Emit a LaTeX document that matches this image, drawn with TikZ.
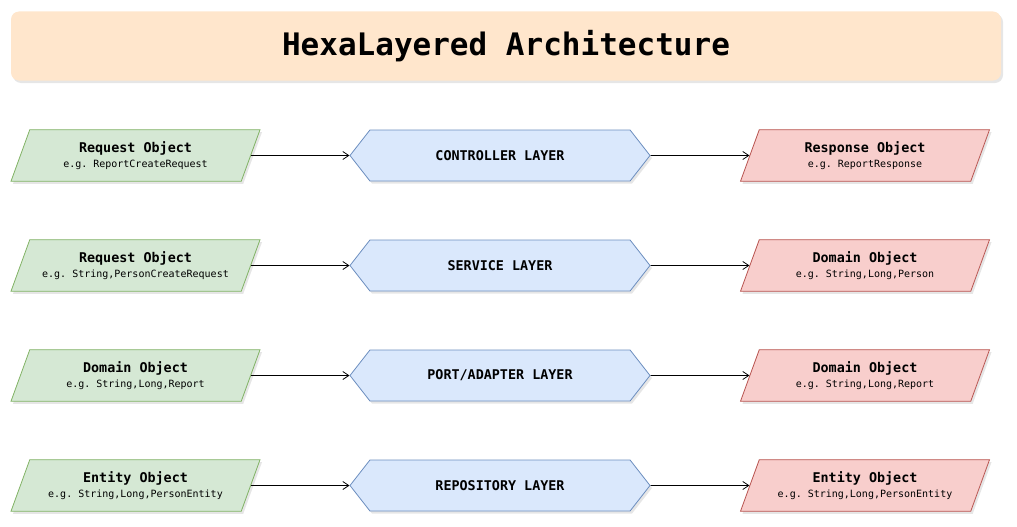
\documentclass[tikz,border=0pt]{standalone}
\usepackage{fontspec}
\setmonofont{DejaVu Sans Mono}
\usetikzlibrary{shapes.geometric,shapes.symbols,arrows.meta,shadows}
\definecolor{titlefill}{HTML}{FFE6CC}
\definecolor{infill}{HTML}{D5E8D4}
\definecolor{indraw}{HTML}{82B366}
\definecolor{layerfill}{HTML}{DAE8FC}
\definecolor{layerdraw}{HTML}{6C8EBF}
\definecolor{outfill}{HTML}{F8CECC}
\definecolor{outdraw}{HTML}{B85450}
\newcommand{\objtext}[2]{{\fontsize{13.4}{16}\selectfont\bfseries #1}\\[3.5pt]{\fontsize{10}{12}\selectfont e.g. #2}}
\begin{document}
\begin{tikzpicture}[x=1pt,y=-1pt,
  softshadow/.style={drop shadow={shadow xshift=2pt,shadow yshift=-2.5pt,opacity=0.2}},
  obj/.style={trapezium,trapezium left angle=70,trapezium right angle=110,
    trapezium stretches body,minimum width=249pt,minimum height=51pt,
    inner xsep=0pt,inner ysep=11.5pt,line width=0.8pt,align=center,font=\ttfamily,softshadow},
  inobj/.style={obj,draw=indraw,fill=infill},
  outobj/.style={obj,draw=outdraw,fill=outfill},
  layer/.style={signal,signal to=west and east,signal pointer angle=104,
    minimum width=300pt,minimum height=51pt,inner sep=0pt,line width=0.8pt,
    draw=layerdraw,fill=layerfill,softshadow,
    font=\ttfamily\bfseries\fontsize{13.4}{16}\selectfont},
  link/.style={-{Straight Barb[length=6pt,width=8pt]},line width=0.8pt}]
\useasboundingbox (0,0) rectangle (1017,527);

% Title
\node[fill=titlefill,rounded corners=8pt,minimum width=990pt,minimum height=69pt,
  softshadow,font=\ttfamily\bfseries\fontsize{31}{36}\selectfont] (title)
  at (506,46) {HexaLayered Architecture};

% Rows: input object, layer, output object
\foreach \i/\y/\inname/\inex/\layername/\outname/\outex in {
  1/155.5/Request Object/ReportCreateRequest/CONTROLLER LAYER/Response Object/ReportResponse,
  2/265.5/Request Object/{String,PersonCreateRequest}/SERVICE LAYER/Domain Object/{String,Long,Person},
  3/375.5/Domain Object/{String,Long,Report}/{PORT/ADAPTER LAYER}/Domain Object/{String,Long,Report},
  4/485.5/Entity Object/{String,Long,PersonEntity}/REPOSITORY LAYER/Entity Object/{String,Long,PersonEntity}}
{
  \node[inobj] (in\i) at (135.5,\y) {\objtext{\inname}{\inex}};
  \node[layer] (layer\i) at (500,\y) {\layername};
  \node[outobj] (out\i) at (865,\y) {\objtext{\outname}{\outex}};
  \draw[link] (in\i.east) -- (layer\i.west);
  \draw[link] (layer\i.east) -- (out\i.west);
}
\end{tikzpicture}
\end{document}
